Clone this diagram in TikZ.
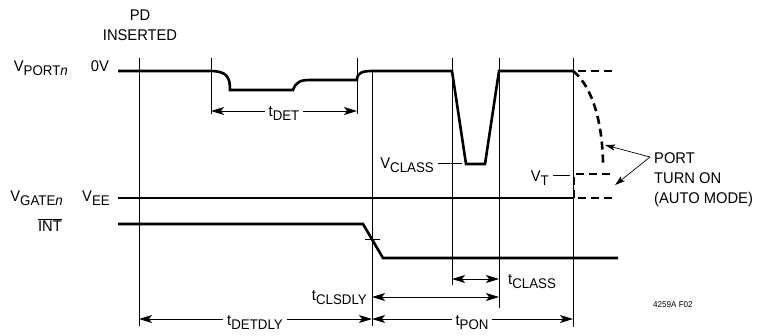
\documentclass[tikz,border=0pt]{standalone}
\usepackage{fontspec}
\setmainfont{Liberation Sans}[FakeStretch=0.95]
\usetikzlibrary{arrows.meta}
\newcommand{\lsub}[1]{\raisebox{-4pt}{\fontsize{14}{14}\selectfont #1}}

\begin{document}
\begin{tikzpicture}[x=1pt,y=-1pt,
    every node/.style={inner sep=0pt,font=\fontsize{15.5}{20}\selectfont},
    wave/.style={line width=2.6pt},
    guide/.style={line width=1pt},
    dashline/.style={wave,dash pattern=on 8pt off 5pt,dash phase=8pt},
    dimline/.style={guide,{Stealth[length=13pt,width=8pt,inset=3pt]}-{Stealth[length=13pt,width=8pt,inset=3pt]}},
    pointer/.style={line width=0.7pt,-{Stealth[length=10pt,width=6pt,inset=2pt]}},
    dimlabel/.style={fill=white,inner xsep=4pt,anchor=base}]
                                \useasboundingbox (0,0) rectangle (759,335);
                                % guide lines
                                \foreach \xa/\ya/\yb in {139/58/326, 211/58/114, 357/58/114, 372/70/326, 452/58/285, 499/58/308, 573/58/327}
                                    \draw[guide] (\xa,\ya) -- (\xa,\yb);
                                % V_PORTn
                                \draw[wave] (118,71) -- (210,71) .. controls (227,71) and (230,77) .. (230,90)
                                    -- (293,90) .. controls (296,82) and (300,80) .. (310,80)
                                    -- (357,80) .. controls (357,73) and (362,71) .. (372,71)
                                    -- (452,71) -- (466,164) -- (485,164) -- (499,71) -- (573,71);
                                \draw[dashline] (573,71) -- (613,71);
                                \draw[dashline,dash phase=0pt] (573,71) .. controls (587,82) and (602,110) .. (603,163);
                                \draw[dashline,dash phase=0pt] (574,198) -- (574,174) -- (613,174);
                                % V_GATEn and INT
                                \draw[wave] (118,198) -- (573,198);
                                \draw[dashline] (573,198) -- (613,198);
                                \draw[wave] (118,224) -- (363,224) -- (383,258) -- (618,258);
                                % ticks
                                \draw[guide] (365,239) -- (380,239);
                                \draw[guide] (438,163) -- (462,163);
                                \draw[guide] (553,175) -- (570,175);
                                % labels
                                \node[anchor=base east] (vport) at (68,71) {V\lsub{PORT\textit{n}}};
                                \node[anchor=base] (zerov) at (100,71) {0V};
                                \node[anchor=base east] (vgate) at (63,201) {V\lsub{GATE\textit{n}}};
                                \node[anchor=base east] (vee) at (110,201) {V\lsub{EE}};
                                \node[anchor=base east] (int) at (62,231) {$\overline{\mbox{INT}}$};
                                \node[align=center,anchor=north] (pd) at (140,10) {PD\\INSERTED};
                                \node[anchor=base east] (vclass) at (434,168) {V\lsub{CLASS}};
                                \node[anchor=base east] (vt) at (549,181) {V\lsub{T}};
                                \node[align=left,anchor=north west] (port) at (654,152) {PORT\\TURN ON\\(AUTO MODE)};
                                \node[anchor=base west,font=\fontsize{8.5}{10}\selectfont] (figno) at (653,307) {4259A F02};
                                % port turn on pointers
                                \coordinate (tip-a) at (605,145);
                                \coordinate (tip-b) at (615,185);
                                \draw[pointer] ([xshift=-4pt,yshift=-5pt]port.north west) -- (tip-a);
                                \draw[pointer] ([xshift=-4pt,yshift=-5pt]port.north west) -- (tip-b);
                                % timing arrows
                                \coordinate (det-l) at (211,111);
                                \coordinate (det-r) at (357,111);
                                \coordinate (cls-l) at (452,279);
                                \coordinate (cls-r) at (499,279);
                                \coordinate (dly-l) at (372,297);
                                \coordinate (dly-r) at (499,297);
                                \coordinate (ddly-l) at (139,319);
                                \coordinate (ddly-r) at (372,319);
                                \coordinate (pon-r) at (573,319);
                                \draw[dimline] (det-l) -- (det-r);
                                \draw[dimline] (cls-l) -- (cls-r);
                                \draw[dimline] (dly-l) -- (dly-r);
                                \draw[dimline] (ddly-l) -- (ddly-r);
                                \draw[dimline] (ddly-r) -- (pon-r);
                                \node[dimlabel] (tdet) at (284,116) {t\lsub{DET}};
                                \node[dimlabel] (tdetdly) at (255,325) {t\lsub{DETDLY}};
                                \node[dimlabel] (tpon) at (472,325) {t\lsub{PON}};
                                \node[anchor=base east] (tclsdly) at (367,300) {t\lsub{CLSDLY}};
                                \node[anchor=base west] (tclass) at (508,284) {t\lsub{CLASS}};
                            \end{tikzpicture}
\end{document}
